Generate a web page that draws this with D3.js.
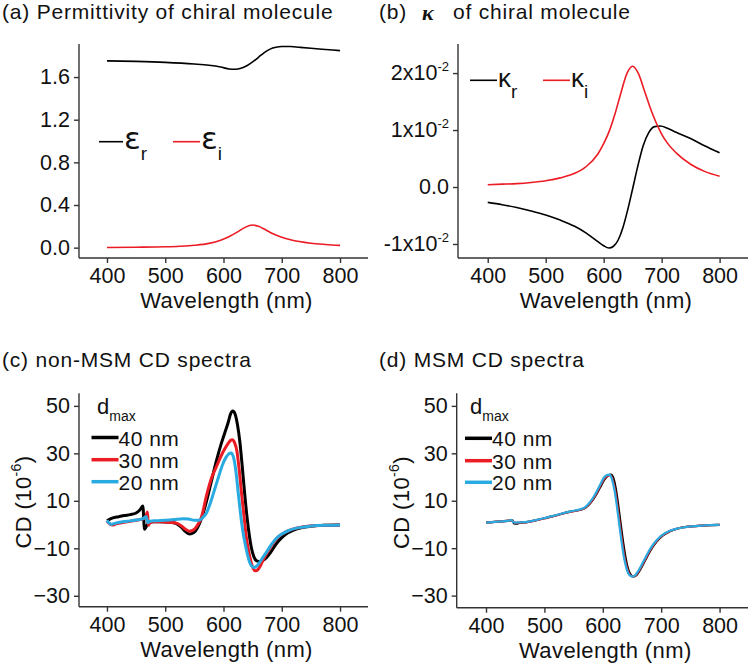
<!DOCTYPE html>
<html><head><meta charset="utf-8">
<script src="https://cdn.jsdelivr.net/npm/d3@7"></script>
<style>
html,body{margin:0;padding:0;background:#fff;}
svg text{font-family:"Liberation Sans",Arial,Helvetica,sans-serif;fill:#111;}
</style></head>
<body>
<svg id="c" width="750" height="663"></svg>
<script>
// ---------------- DATA ----------------
const xTicks = [400, 500, 600, 700, 800];

// (a) permittivity
const epsTicks = [0.0, 0.4, 0.8, 1.2, 1.6];
const epsReal = [[400,1.752],[450,1.747],[500,1.738],[550,1.722],[575,1.71],[595,1.694],[610,1.676],[620,1.673],[630,1.682],[640,1.706],[650,1.742],[660,1.785],[670,1.83],[680,1.862],[690,1.879],[700,1.886],[715,1.886],[730,1.879],[750,1.870],[775,1.859],[800,1.848]];
const epsImag = [[400,0.002],[450,0.004],[500,0.008],[525,0.013],[550,0.022],[575,0.040],[595,0.070],[610,0.105],[625,0.150],[637,0.190],[650,0.212],[660,0.200],[672,0.168],[685,0.130],[700,0.098],[715,0.075],[730,0.058],[750,0.042],[775,0.030],[800,0.021]];

// (b) kappa
const kapTicks = [-0.01, 0.0, 0.01, 0.02];
const kapTickLabels = [["-1x10","-2"],["0.0",""],["1x10","-2"],["2x10","-2"]];
const kapReal = [[400,-0.0027],[425,-0.0031],[450,-0.0036],[475,-0.0042],[500,-0.0049],[525,-0.0058],[550,-0.0069],[570,-0.0081],[590,-0.0096],[600,-0.0103],[609,-0.0107],[617,-0.0104],[625,-0.0093],[633,-0.0072],[641,-0.0042],[650,-0.0003],[659,0.0037],[668,0.0072],[678,0.0096],[688,0.0106],[698,0.0107],[710,0.0103],[725,0.0096],[750,0.0085],[775,0.0072],[800,0.0060]];
const kapImag = [[400,0.0004],[425,0.0005],[450,0.0006],[475,0.0008],[500,0.0011],[525,0.0016],[550,0.0024],[570,0.0036],[590,0.0058],[600,0.0076],[610,0.0099],[620,0.0130],[630,0.0166],[640,0.0199],[650,0.0212],[660,0.0199],[670,0.0170],[680,0.0140],[690,0.0114],[700,0.0093],[710,0.0077],[725,0.0060],[750,0.0040],[775,0.0027],[800,0.0019]];

// (c)/(d) CD spectra
const cdTicks = [-30, -10, 10, 30, 50];
const dmaxLabels = ["40 nm", "30 nm", "20 nm"];
const nonMsm40 = [[400,1.6],[410,2.8],[420,3.3],[430,3.8],[440,4.2],[450,4.9],[456,6.0],[461.5,7.8],[464.5,-2.0],[468,-0.6],[473,1.0],[480,1.2],[490,1.2],[500,1.1],[510,0.9],[520,0.3],[528,-1.2],[535,-3.0],[542,-4.0],[549,-3.4],[556,-1.0],[562,2.5],[570,9],[578,17],[588,27],[596,34],[602,38.5],[608,43],[612,46.5],[616,47.8],[620,46.5],[624,42],[628,35],[632,25],[636,14],[640,4],[644,-4],[648,-10],[652,-13.5],[657,-15.3],[663,-15.6],[668,-15],[674,-13.8],[680,-12],[690,-8.3],[700,-5.5],[710,-3.6],[720,-2.3],[735,-1.2],[750,-0.7],[775,-0.3],[800,-0.2]];
const nonMsm30 = [[400,1.6],[405,0.2],[410,-0.2],[415,0.3],[425,0.8],[440,1.4],[455,2.0],[462,2.4],[466,3.0],[469.5,5.3],[471,-0.3],[474,0.8],[480,1.2],[490,1.2],[500,1.1],[510,0.9],[520,0.5],[528,-0.6],[535,-2.0],[542,-2.8],[549,-2.2],[556,0.0],[562,3],[571,12.4],[580,20],[588,24.5],[596,29],[602,31.8],[608,34.2],[612,35.4],[615,35.7],[619,34.5],[623,31],[627,23],[631,13],[635,4],[639,-5],[643,-11],[647,-15.5],[651,-18.5],[655,-19.5],[659,-19],[664,-17],[670,-14],[678,-10.5],[686,-7.5],[695,-5],[705,-3.3],[720,-1.8],[735,-1.0],[750,-0.6],[775,-0.3],[800,-0.2]];
const nonMsm20 = [[400,1.8],[404,0.6],[407,0.1],[412,0.4],[420,0.9],[435,1.4],[450,1.9],[462,2.5],[467,3.4],[470.5,0.8],[474,1.4],[485,1.6],[500,1.8],[515,2.1],[530,2.5],[540,2.3],[550,1.8],[558,1.8],[564,2.8],[571,5],[578,9.5],[585,15],[592,20.5],[598,25],[604,28.2],[609,29.8],[613,30.2],[617,28.5],[621,23],[625,14],[629,5],[633,-2.5],[637,-8],[641,-12.5],[645,-16],[649,-17.7],[652,-18.1],[656,-17.7],[661,-16.3],[667,-14],[674,-11.5],[682,-8.5],[690,-6],[700,-4],[712,-2.5],[725,-1.5],[740,-0.9],[760,-0.4],[780,-0.3],[800,-0.2]];
const msm40 = [[400,0.8],[420,1.2],[440,1.6],[445,1.8],[448,0.4],[452,0.3],[458,0.7],[470,1.0],[485,1.7],[500,2.6],[515,3.5],[530,4.5],[545,5.4],[560,6.1],[570,7.0],[578,8.8],[586,11.5],[595,15.5],[603,19],[609,20.6],[614,21.0],[618,19.6],[622,15.5],[626,9],[630,1.5],[634,-6],[638,-12.5],[642,-17.5],[646,-20.5],[650,-21.7],[654,-21.9],[658,-21.3],[663,-19.5],[669,-16.8],[676,-13.5],[684,-10],[693,-7],[703,-4.6],[715,-2.9],[730,-1.6],[750,-0.8],[775,-0.4],[800,-0.2]];
const msm30 = [[400,0.8],[420,1.2],[440,1.6],[444,1.8],[447,1.0],[451,0.7],[458,0.8],[470,1.0],[485,1.7],[500,2.6],[515,3.5],[530,4.5],[545,5.4],[560,6.1],[570,7.1],[578,9.0],[586,11.8],[595,16],[603,19.5],[608,20.6],[613,20.8],[617,18.8],[621,14.5],[625,8],[629,0.5],[633,-7],[637,-13.5],[641,-18],[645,-20.8],[649,-21.8],[653,-21.9],[657,-21.3],[662,-19.5],[668,-16.8],[675,-13.5],[683,-10],[692,-7],[702,-4.6],[714,-2.9],[730,-1.6],[750,-0.8],[775,-0.4],[800,-0.2]];
const msm20 = [[400,0.8],[420,1.2],[440,1.6],[444,1.9],[446,1.1],[450,0.8],[458,0.9],[470,1.1],[485,1.8],[500,2.7],[515,3.6],[530,4.6],[545,5.5],[560,6.3],[570,7.3],[578,9.4],[586,12.3],[595,16.5],[602,19.8],[608,20.9],[612,21.0],[616,18.8],[620,14.5],[624,8],[628,0.5],[632,-7],[636,-13.5],[640,-18],[644,-20.8],[648,-21.8],[652,-21.9],[656,-21.3],[661,-19.5],[667,-16.8],[674,-13.5],[682,-10],[691,-7],[701,-4.6],[713,-2.9],[730,-1.6],[750,-0.8],[775,-0.4],[800,-0.2]];

// ---------------- DRAW ----------------
const svg = d3.select("#c");
const RED = "#ec1c24", BLUE = "#29abe2", BLACK = "#000";
const TICKFONT = 21.5;

function panel(o){
  const x = d3.scaleLinear().domain(o.xd).range([o.x0, o.x1]);
  const y = d3.scaleLinear().domain(o.yd).range([o.y1, o.y0]);
  const g = svg.append("g");
  const ax = g.append("g").attr("transform", `translate(0,${o.y1})`)
    .call(d3.axisBottom(x).tickValues(xTicks).tickSize(5).tickPadding(4).tickFormat(d3.format("d")));
  const ay = g.append("g").attr("transform", `translate(${o.x0},0)`)
    .call(d3.axisLeft(y).tickValues(o.yt).tickSize(5).tickPadding(4).tickFormat(o.yf || (d=>d)));
  [ax, ay].forEach(a => {
    a.select(".domain").attr("stroke", "#333").attr("stroke-width", 1.4);
    a.selectAll(".tick line").attr("stroke", "#333").attr("stroke-width", 1.4);
    a.selectAll("text").attr("font-size", TICKFONT).attr("fill", "#111")
      .style("font-family", '"Liberation Sans",Arial,sans-serif');
  });
  ax.selectAll("text").attr("dy", "0.74em");
  ax.select(".domain").attr("d", `M${o.x0},0H${o.x1}`);
  ay.select(".domain").attr("d", `M0,${o.y1}V${o.y0}`);
  if (o.ytsup) {
    ay.selectAll(".tick text").each(function(d, i){
      const t = d3.select(this); t.text("");
      const lab = o.ytsup[i];
      t.append("tspan").text(lab[0]);
      if (lab[1]) t.append("tspan").attr("font-size", 13).attr("dy", "-0.7em").text(lab[1]);
    });
  }
  g.append("text").attr("x", (o.x0 + o.x1)/2 + 3).attr("y", o.y1 + 50)
    .attr("text-anchor", "middle").attr("font-size", 22).attr("letter-spacing", 0.4).text("Wavelength (nm)");
  const tt = g.append("text").attr("x", o.tx).attr("y", o.ty).attr("font-size", 21).attr("letter-spacing", 0.8);
  o.title(tt);
  const line = d3.line().x(d => x(d[0])).y(d => y(d[1])).curve(d3.curveMonotoneX);
  o.series.forEach(s => {
    g.append("path").datum(s.data).attr("d", line).attr("fill", "none")
      .attr("stroke", s.color).attr("stroke-width", s.w).attr("stroke-linejoin", "round");
  });
  return {g, x, y};
}

function greekLegend(g, xl, yl, len, color, sym, sub, symSize, font) {
  g.append("line").attr("x1", xl).attr("x2", xl + len).attr("y1", yl).attr("y2", yl)
    .attr("stroke", color).attr("stroke-width", 1.6);
  const t = g.append("text").attr("x", xl + len + 1).attr("y", yl + 7).attr("font-size", symSize);
  t.append("tspan").style("font-family", font).text(sym);
  t.append("tspan").attr("font-size", 19).attr("dy", 11).text(sub);
}

// (a)
const pa = panel({
  x0: 79, x1: 368, y0: 44, y1: 258, xd: [352, 848], yd: [-0.097, 1.91],
  yt: epsTicks, yf: d3.format(".1f"), tx: 2, ty: 19,
  title: t => t.text("(a) Permittivity of chiral molecule"),
  series: [{data: epsReal, color: BLACK, w: 1.6}, {data: epsImag, color: RED, w: 1.6}]
});
greekLegend(pa.g, 99, 141.7, 24, BLACK, "ε", "r", 31, '"DejaVu Sans",sans-serif');
greekLegend(pa.g, 173, 141.7, 27, RED, "ε", "i", 31, '"DejaVu Sans",sans-serif');

// (b)
const pb = panel({
  x0: 458, x1: 748, y0: 44, y1: 258, xd: [348.7, 849], yd: [-0.01246, 0.0251],
  yt: kapTicks, ytsup: kapTickLabels, tx: 379, ty: 19,
  title: t => {
    t.append("tspan").text("(b)");
    t.append("tspan").attr("x", 422).attr("dy", 1).style("font-family", '"Liberation Serif","Times New Roman",serif')
      .attr("font-style", "italic").attr("font-weight", "bold").attr("font-size", 22).text("κ");
    t.append("tspan").attr("x", 453).attr("dy", -1).text("of chiral molecule");
  },
  series: [{data: kapReal, color: BLACK, w: 1.6}, {data: kapImag, color: RED, w: 1.6}]
});
greekLegend(pb.g, 470, 80.3, 27, BLACK, "κ", "r", 26, '"Liberation Sans",Arial,sans-serif');
greekLegend(pb.g, 543, 80.3, 27, RED, "κ", "i", 26, '"Liberation Sans",Arial,sans-serif');

// (c), (d)
function cdPanel(o, data, w, leg) {
  const p = panel(Object.assign(o, {
    yt: cdTicks, yf: d3.format("d"),
    series: [{data: data[0], color: BLACK, w: w}, {data: data[1], color: RED, w: w}, {data: data[2], color: BLUE, w: w}]
  }));
  const yl = p.g.append("text").attr("transform", `translate(${o.x0 - 48},${(o.y0 + o.y1)/2 + 2}) rotate(-90)`)
    .attr("text-anchor", "middle").attr("font-size", 22).attr("letter-spacing", 0.4);
  yl.append("tspan").text("CD (10");
  yl.append("tspan").attr("font-size", 14).attr("dy", "-0.7em").text("-6");
  yl.append("tspan").attr("dy", "0.45em").text(")");
  const lt = p.g.append("text").attr("x", leg.dx).attr("y", 414).attr("font-size", 22);
  lt.append("tspan").text("d");
  lt.append("tspan").attr("font-size", 14).attr("dy", 7).text("max");
  const cols = [BLACK, RED, BLUE];
  dmaxLabels.forEach((lab, i) => {
    const yy = leg.ly[i];
    p.g.append("line").attr("x1", leg.lx).attr("x2", leg.lx + 27).attr("y1", yy).attr("y2", yy)
      .attr("stroke", cols[i]).attr("stroke-width", 3.5);
    p.g.append("text").attr("x", leg.lx + 27).attr("y", yy + 8).attr("font-size", 21).attr("letter-spacing", 0.5).text(lab);
  });
  return p;
}
cdPanel({x0: 79, x1: 368, y0: 393.3, y1: 606.7, xd: [352, 848], yd: [-34.6, 55.3], tx: 2, ty: 367,
  title: t => t.text("(c) non-MSM CD spectra")}, [nonMsm40, nonMsm30, nonMsm20], 3,
  {dx: 97, lx: 91.5, ly: [437.5, 459.7, 481.7]});
cdPanel({x0: 456.7, x1: 748, y0: 393.3, y1: 607.7, xd: [349.8, 848.7], yd: [-35.1, 55.3], tx: 379, ty: 367,
  title: t => t.text("(d) MSM CD spectra")}, [msm40, msm30, msm20], 2.2,
  {dx: 470, lx: 465, ly: [438.3, 460.7, 482.3]});
</script>
</body></html>
